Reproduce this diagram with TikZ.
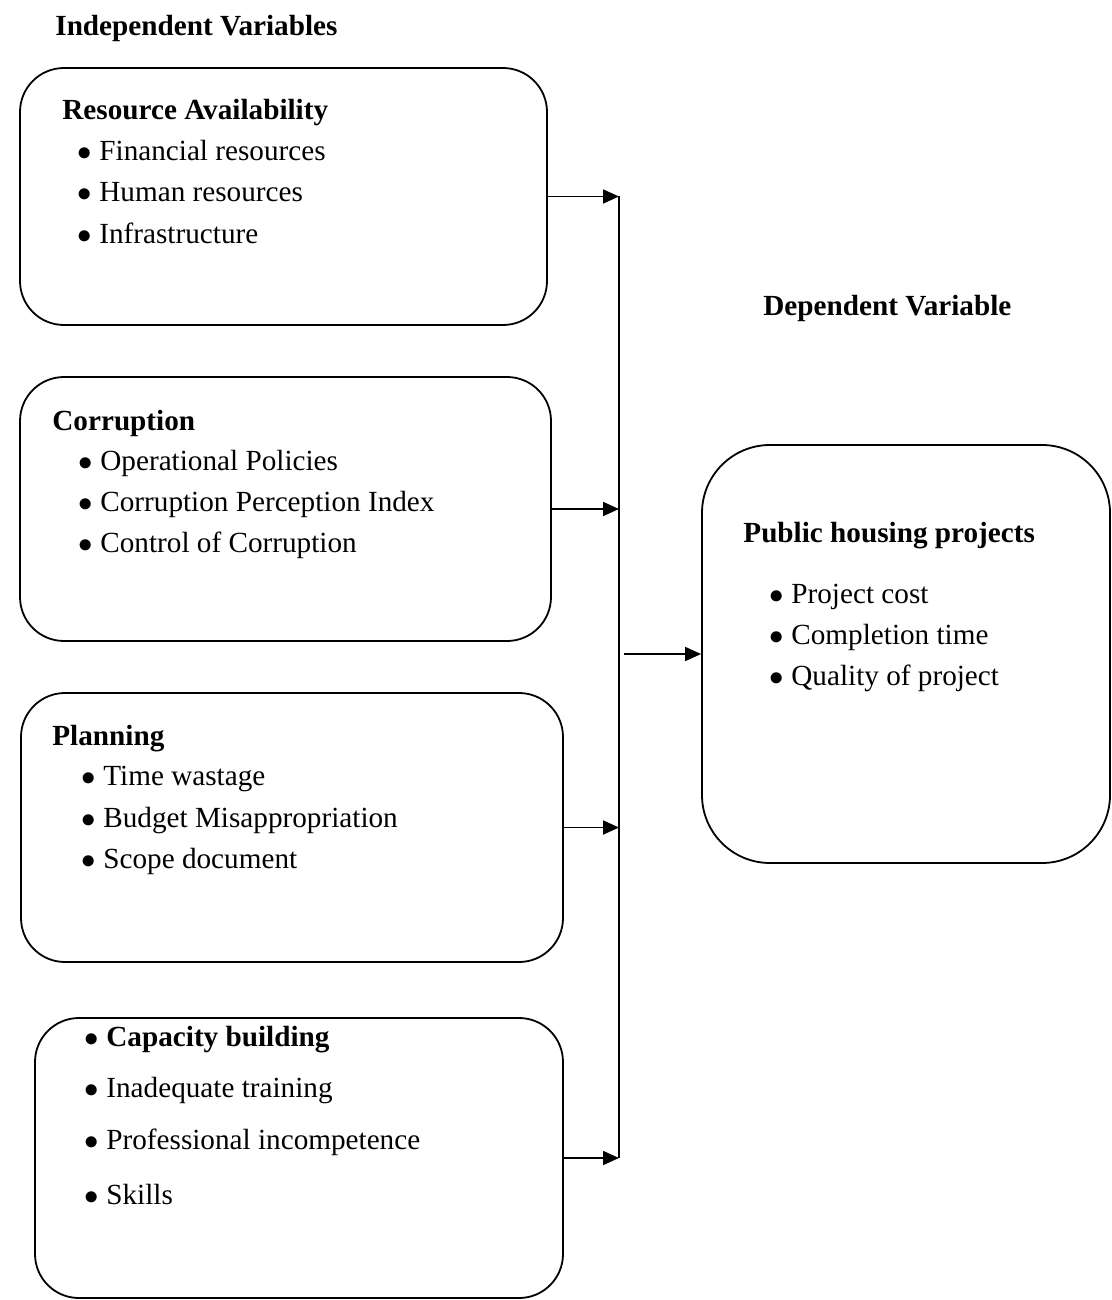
\documentclass[tikz,border=0pt]{standalone}
\usepackage{fontspec}
\setmainfont{Liberation Serif}
\usetikzlibrary{arrows.meta}
\newcommand{\bitem}[1]{\makebox[11pt][l]{$\bullet$}#1}
\begin{document}
\begin{tikzpicture}[x=0.5pt,y=-0.5pt,
  vbox/.style={draw,line width=0.9pt,rounded corners=22pt,inner sep=0pt},
  txt/.style={anchor=base west,inner sep=0pt,font=\fontsize{14.6}{16}\selectfont},
  ttl/.style={txt,font=\fontsize{14.6}{16}\selectfont\bfseries},
  conn/.style={line width=0.9pt},
  arr/.style={line width=0.9pt,-{Triangle[length=8pt,width=7pt]}}]
\useasboundingbox (0,0) rectangle (1112,1300);

% boxes
\node[vbox,minimum width=263.5pt,minimum height=128.5pt] (b1) at (283.5,196.5) {};
\node[vbox,minimum width=265.5pt,minimum height=132pt] (b2) at (285.5,509) {};
\node[vbox,minimum width=271pt,minimum height=134.5pt] (b3) at (292,827.5) {};
\node[vbox,minimum width=264pt,minimum height=140pt] (b4) at (299,1158) {};
\node[vbox,rounded corners=34pt,minimum width=204pt,minimum height=209pt] (rb) at (906,654) {};

% headings
\node[ttl] (hind) at (55,36) {Independent Variables};
\node[ttl] (hdep) at (763,315) {Dependent Variable};

% box 1
\node[ttl] (t1) at (62,120) {Resource Availability};
\node[txt] (t1a) at (77,161) {\bitem{Financial resources}};
\node[txt] (t1b) at (77,202) {\bitem{Human resources}};
\node[txt] (t1c) at (77,243) {\bitem{Infrastructure}};

% box 2
\node[ttl] (t2) at (52,430) {Corruption};
\node[txt] (t2a) at (78,470) {\bitem{Operational Policies}};
\node[txt] (t2b) at (78,511) {\bitem{Corruption Perception Index}};
\node[txt] (t2c) at (78,552) {\bitem{Control of Corruption}};

% box 3
\node[ttl] (t3) at (52,745) {Planning};
\node[txt] (t3a) at (81,785) {\bitem{Time wastage}};
\node[txt] (t3b) at (81,827) {\bitem{Budget Misappropriation}};
\node[txt] (t3c) at (81,868) {\bitem{Scope document}};

% box 4
\node[txt] (t4) at (84,1046) {\bitem{\bfseries Capacity building}};
\node[txt] (t4a) at (84,1097) {\bitem{Inadequate training}};
\node[txt] (t4b) at (84,1149) {\bitem{Professional incompetence}};
\node[txt] (t4c) at (84,1204) {\bitem{Skills}};

% right box
\node[ttl] (tr) at (743,542) {Public housing projects};
\node[txt] (tra) at (769,603) {\bitem{Project cost}};
\node[txt] (trb) at (769,644) {\bitem{Completion time}};
\node[txt] (trc) at (769,685) {\bitem{Quality of project}};

% connectors
\coordinate (vx) at (619,0);
\coordinate (j1) at (b1.east -| vx);
\coordinate (j2) at (b2.east -| vx);
\coordinate (j3) at (b3.east -| vx);
\coordinate (j4) at (b4.east -| vx);
\coordinate (jm) at (624,654);
\draw[conn] (j1) -- (j4);
\draw[arr] (b1.east) -- (j1);
\draw[arr] (b2.east) -- (j2);
\draw[arr] (b3.east) -- (j3);
\draw[arr] (b4.east) -- (j4);
\draw[arr] (jm) -- (rb.west);
\end{tikzpicture}
\end{document}
